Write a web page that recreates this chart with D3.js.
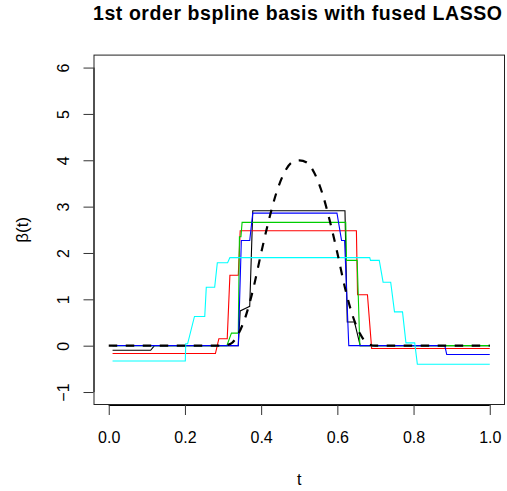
<!DOCTYPE html>
<html>
<head>
<meta charset="utf-8">
<script src="https://cdn.jsdelivr.net/npm/d3@7"></script>
<style>
  body { margin: 0; background: #fff; }
  text { font-family: "Liberation Sans", Arial, sans-serif; fill: #000; }
</style>
</head>
<body>
<div id="chart"></div>
<script>
// datos: vertices de cada curva escalonada (t, beta)
const tNegro = [0.01, 0.11, 0.12, 0.34, 0.345, 0.365, 0.37, 0.378, 0.62, 0.626, 0.645, 0.66, 1.00]
const vNegro = [-0.10, -0.10, 0, 0, 0.75, 0.83, 0.85, 2.91, 2.91, 0.51, 0.51, 0, 0]

const tRojo = [0.01, 0.28, 0.289, 0.311, 0.318, 0.34, 0.345, 0.65, 0.653, 0.679, 0.69, 1.00]
const vRojo = [-0.17, -0.17, 0.15, 0.15, 1.52, 1.52, 2.48, 2.48, 1.10, 1.10, -0.06, -0.06]

const tVerde = [0.01, 0.31, 0.322, 0.34, 0.343, 0.347, 0.35, 0.622, 0.624, 0.652, 0.659, 1.00]
const vVerde = [0, 0, 0.27, 0.27, 2.35, 2.35, 2.66, 2.66, 1.84, 1.84, 0, 0]

const tAzul = [0.01, 0.34, 0.348, 0.37, 0.378, 0.599, 0.611, 0.619, 0.63, 0.882, 0.887, 1.00]
const vAzul = [0, 0, 2.27, 2.27, 2.86, 2.86, 2.27, 2.27, 0, 0, -0.19, -0.19]

const tCian = [0.01, 0.201, 0.202, 0.207, 0.225, 0.252, 0.256, 0.278, 0.285, 0.312, 0.318,
  0.685, 0.687, 0.71, 0.72, 0.74, 0.75, 0.771, 0.78, 0.803, 0.81, 1.00]
const vCian = [-0.33, -0.33, 0.04, 0.04, 0.63, 0.63, 1.26, 1.26, 1.79, 1.79, 1.90,
  1.90, 1.84, 1.84, 1.37, 1.37, 0.73, 0.73, 0.06, 0.06, -0.40, -0.40]

// funcion verdadera (linea discontinua)
const tReal = [0, 0.30, 0.32, 0.34, 0.36, 0.38, 0.40, 0.42, 0.44, 0.46, 0.48, 0.50,
  0.52, 0.54, 0.56, 0.58, 0.60, 0.62, 0.64, 0.66, 0.68, 0.70, 1.00]
const vReal = [0, 0, 0.04, 0.25, 0.65, 1.25, 2.0, 2.7, 3.3, 3.72, 3.95, 4.0,
  3.95, 3.72, 3.3, 2.7, 2.0, 1.25, 0.65, 0.25, 0.04, 0, 0]

const ticksX = [0, 0.2, 0.4, 0.6, 0.8, 1.0]
const ticksY = [-1, 0, 1, 2, 3, 4, 5, 6]

const titulo = "1st order bspline basis with fused LASSO"

// constantes
const ancho = 507
const alto = 491
const caja = { izquierdo: 93.5, derecho: 505, superior: 54.6, inferior: 405 }

const svg = d3.select("#chart").append("svg").attr("width", ancho).attr("height", alto)

// escalas (R extiende el rango un 4%)
const x = d3.scaleLinear().domain([-0.04, 1.04]).range([caja.izquierdo, caja.derecho])
const y = d3.scaleLinear().domain([-1.28, 6.28]).range([caja.inferior, caja.superior])

// ejes
const ejeX = d3.axisBottom(x).tickValues(ticksX).tickSize(10).tickPadding(15)
  .tickFormat(d3.format(".1f"))
const ejeY = d3.axisLeft(y).tickValues(ticksY).tickSize(10).tickPadding(0)

const grupoX = svg.append("g").attr("transform", `translate(0, ${caja.inferior})`).call(ejeX)
grupoX.select(".domain").attr("d", `M${x(0)},0.5H${x(1)}`)
grupoX.selectAll("line").attr("stroke", "#333")
grupoX.selectAll("text").attr("font-size", 16).attr("font-family", "Liberation Sans, Arial")
  .attr("y", 38).attr("dy", 0)

const grupoY = svg.append("g").attr("transform", `translate(${caja.izquierdo}, 0)`).call(ejeY)
grupoY.select(".domain").attr("d", `M0.5,${y(-1)}V${y(6)}`)
grupoY.selectAll("line").attr("stroke", "#333")
grupoY.selectAll("text").attr("font-size", 16).attr("font-family", "Liberation Sans, Arial")
  .attr("text-anchor", "middle").attr("x", null).attr("dy", 0)
  .attr("transform", "translate(-25,0) rotate(-90)")

// caja
svg.append("rect")
  .attr("x", caja.izquierdo + 0.5).attr("y", caja.superior + 0.5)
  .attr("width", caja.derecho - caja.izquierdo - 1).attr("height", caja.inferior - caja.superior - 1)
  .attr("fill", "none").attr("stroke", "#222")

// lineas
const linea = d3.line().x(d => x(d[0])).y(d => y(d[1]))
const series = [
  { t: tNegro, v: vNegro, color: "black" },
  { t: tRojo, v: vRojo, color: "red" },
  { t: tVerde, v: vVerde, color: "#00CD00" },
  { t: tAzul, v: vAzul, color: "blue" },
  { t: tCian, v: vCian, color: "cyan" }
]
series.forEach(s => {
  svg.append("path")
    .datum(d3.zip(s.t, s.v))
    .attr("fill", "none").attr("stroke", s.color).attr("stroke-width", 1.1)
    .attr("d", linea)
})

const lineaSuave = d3.line().x(d => x(d[0])).y(d => y(d[1])).curve(d3.curveMonotoneX)
svg.append("path")
  .datum(d3.zip(tReal, vReal))
  .attr("fill", "none").attr("stroke", "black").attr("stroke-width", 2.2)
  .attr("stroke-dasharray", "8.5,8.5")
  .attr("d", lineaSuave)

// textos
svg.append("text").attr("x", 93).attr("y", 20)
  .attr("font-size", 19.5).attr("font-weight", "bold")
  .attr("textLength", 409).attr("lengthAdjust", "spacing")
  .text(titulo)
svg.append("text").attr("x", (caja.izquierdo + caja.derecho) / 2).attr("y", 485)
  .attr("text-anchor", "middle").attr("font-size", 16).text("t")
svg.append("text").attr("transform", `translate(28, ${(caja.superior + caja.inferior) / 2}) rotate(-90)`)
  .attr("text-anchor", "middle").attr("font-size", 17).text("β(t)")
</script>
</body>
</html>
